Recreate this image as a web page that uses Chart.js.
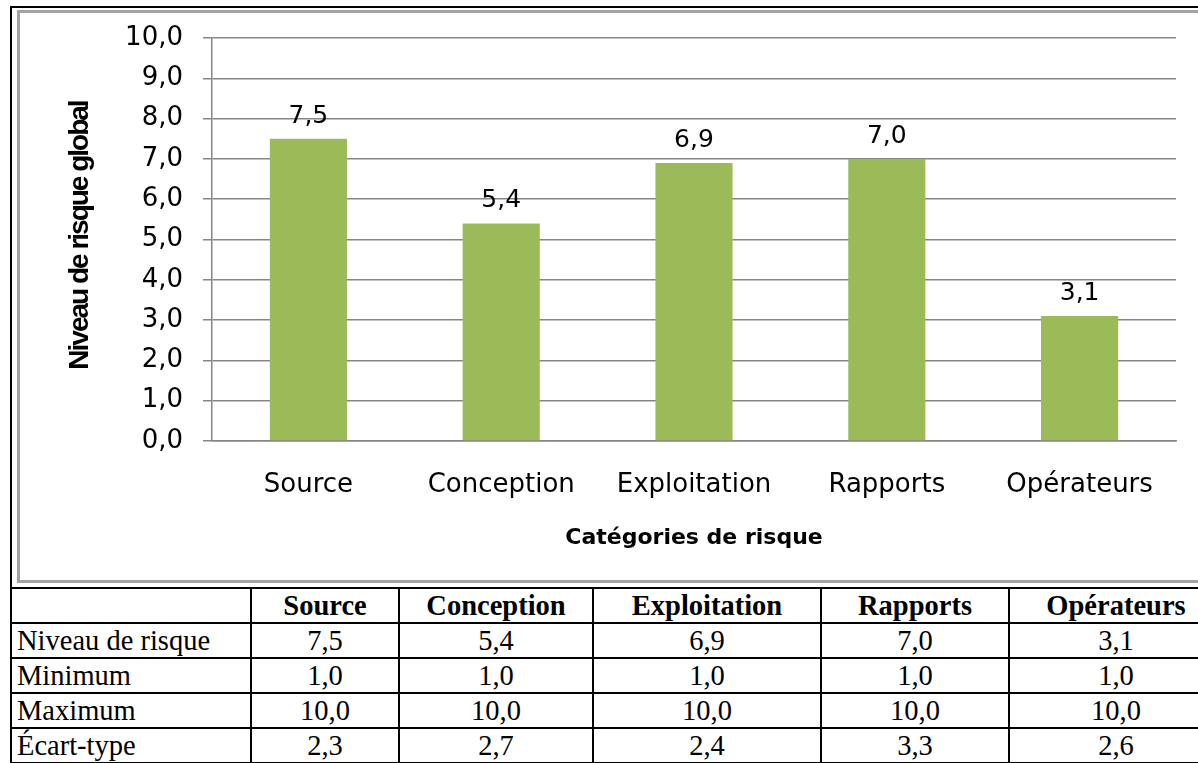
<!DOCTYPE html>
<html lang="fr">
<head>
<meta charset="utf-8">
<title>Niveau de risque global par catégorie</title>
<script src="https://cdn.jsdelivr.net/npm/chart.js@4.4.1/dist/chart.umd.min.js"></script>
<style>
    html, body { margin: 0; padding: 0; overflow: hidden; background: #fff; }
    .cell-chart {
        position: absolute; left: 10px; top: 6px; width: 1250px; height: 581px;
        border-top: 2px solid #000; border-left: 2px solid #000;
    }
    .chart-box {
        position: absolute; left: 17px; top: 10px; width: 1180px; height: 567px;
        border: 3px solid #a3a3a3;
    }
    .chart-box canvas { display: block; }
    table.stats {
        position: absolute; left: 10px; top: 587px; width: 1214px;
        border-collapse: separate; border-spacing: 0; table-layout: fixed;
        border-top: 2px solid #000; border-left: 2px solid #000;
        font-family: "Liberation Serif", "Times New Roman", serif; font-size: 28.5px; color: #000;
    }
    table.stats td, table.stats th {
        border-right: 2px solid #000; border-bottom: 2px solid #000;
        height: 33px; line-height: 33px; padding: 0; text-align: center; white-space: nowrap;
    }
    table.stats th { font-weight: bold; }
    table.stats td.lbl { text-align: left; padding-left: 5px; }
</style>
</head>
<body>
<div class="cell-chart"></div>
<div class="chart-box"><canvas id="riskChart" width="1180" height="567"></canvas></div>
<table class="stats" id="statsTable">
    <colgroup>
        <col style="width:240px"><col style="width:148px"><col style="width:194px">
        <col style="width:228px"><col style="width:188px"><col style="width:214px">
    </colgroup>
</table>

<script>
// Catégories et statistiques par catégorie
const categories = ['Source', 'Conception', 'Exploitation', 'Rapports', 'Opérateurs'];
const niveauRisque = [7.5, 5.4, 6.9, 7.0, 3.1];
const minimum = [1.0, 1.0, 1.0, 1.0, 1.0];
const maximum = [10.0, 10.0, 10.0, 10.0, 10.0];
const ecartType = [2.3, 2.7, 2.4, 3.3, 2.6];

// Axe des ordonnées : 0,0 à 10,0 par pas de 1
const yMin = 0;
const yMax = 10;
const yStep = 1;

const yTitle = 'Niveau de risque global';
const xTitle = 'Catégories de risque';

const fmt = v => Number(v).toFixed(1).replace('.', ',');

(function() {
    // Tableau sous le graphique
    const table = document.getElementById('statsTable');
    const rows = [
        ['', categories, true],
        ['Niveau de risque', niveauRisque],
        ['Minimum', minimum],
        ['Maximum', maximum],
        ['Écart-type', ecartType]
    ];
    let html = '';
    rows.forEach(([label, values, isHead]) => {
        html += '<tr>';
        if (isHead) {
            html += '<td class="lbl"></td>' + values.map(c => `<th>${c}</th>`).join('');
        } else {
            html += `<td class="lbl">${label}</td>` + values.map(v => `<td>${fmt(v)}</td>`).join('');
        }
        html += '</tr>';
    });
    table.insertAdjacentHTML('beforeend', html);
})();

const gridColor = '#868686';
const sansFont = '"DejaVu Sans", Verdana, sans-serif';

// Valeurs au-dessus des barres
const valueLabels = {
    id: 'valueLabels',
    afterDatasetsDraw(chart) {
        const ctx = chart.ctx;
        const meta = chart.getDatasetMeta(0);
        ctx.save();
        ctx.font = '25px ' + sansFont;
        ctx.fillStyle = '#000';
        ctx.textAlign = 'center';
        ctx.textBaseline = 'alphabetic';
        meta.data.forEach((bar, i) => {
            ctx.fillText(fmt(chart.data.datasets[0].data[i]), bar.x, bar.y - 16);
        });
        ctx.restore();
    }
};

// Titre vertical, gras et resserré
const yAxisTitle = {
    id: 'yAxisTitle',
    afterDraw(chart) {
        const ctx = chart.ctx;
        const area = chart.chartArea;
        ctx.save();
        ctx.translate(area.left - 132, (area.top + area.bottom) / 2 - 4);
        ctx.rotate(-Math.PI / 2);
        ctx.font = 'bold 28px "Liberation Sans", Arial, sans-serif';
        ctx.letterSpacing = '-2px';
        ctx.fillStyle = '#000';
        ctx.textAlign = 'center';
        ctx.textBaseline = 'middle';
        ctx.fillText(yTitle, 0, 0);
        ctx.restore();
    }
};

new Chart(document.getElementById('riskChart').getContext('2d'), {
    type: 'bar',
    data: {
        labels: categories,
        datasets: [{
            data: niveauRisque,
            backgroundColor: '#9bbb59',
            borderWidth: 0,
            barPercentage: 0.4,
            categoryPercentage: 1.0
        }]
    },
    options: {
        responsive: false,
        animation: false,
        layout: { padding: { left: 0, top: 25, right: 24, bottom: 19 } },
        plugins: {
            legend: { display: false },
            tooltip: { enabled: false }
        },
        scales: {
            x: {
                grid: { display: false, drawTicks: false },
                border: { display: true, color: gridColor, width: 1.5 },
                ticks: { color: '#000', padding: 29, font: { family: sansFont, size: 26 } },
                title: {
                    display: true,
                    text: xTitle,
                    color: '#000',
                    padding: { top: 10, bottom: 10 },
                    font: { family: sansFont, size: 22, weight: 'bold' }
                },
                afterFit(scale) { scale.height = 120; }
            },
            y: {
                min: yMin,
                max: yMax,
                grid: { color: gridColor, lineWidth: 1.5, tickLength: 9 },
                border: { display: true, color: gridColor, width: 1.5 },
                ticks: {
                    stepSize: yStep,
                    color: '#000',
                    padding: 20,
                    font: { family: sansFont, size: 26 },
                    callback: v => fmt(v)
                },
                afterFit(scale) {
                    scale.width = 192;
                    scale.paddingTop = 0;
                    scale.paddingBottom = 0;
                }
            }
        }
    },
    plugins: [valueLabels, yAxisTitle]
});
</script>
</body>
</html>
